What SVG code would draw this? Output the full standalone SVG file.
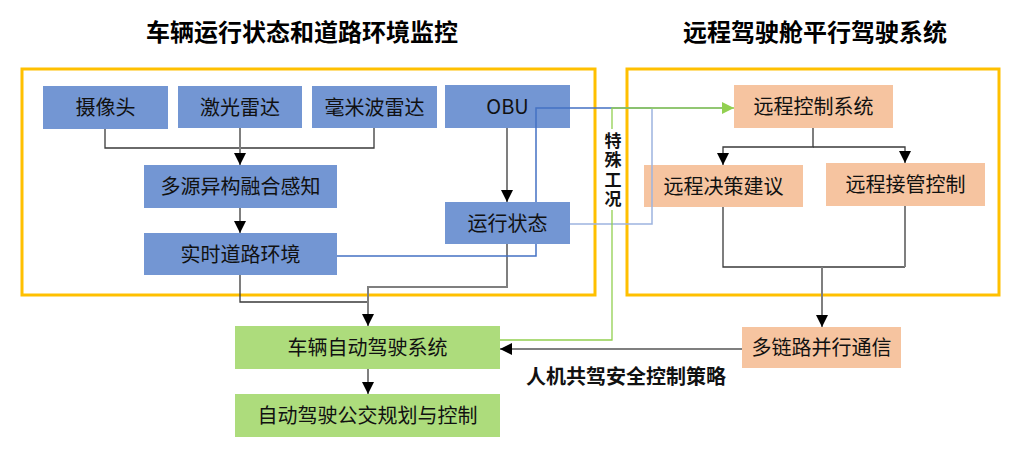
<svg xmlns="http://www.w3.org/2000/svg" width="1025" height="451" viewBox="0 0 1025 451">
<style>
.t{font-family:"Noto Sans CJK SC","Microsoft YaHei",sans-serif;font-size:20px;fill:#111;text-anchor:middle}
.b{font-weight:bold}
.title{font-size:24px;font-weight:bold;fill:#000}
.blue{fill:#7396D3}
.org{fill:#F6C4A0}
.grn{fill:#ADDC7C}
.frame{fill:none;stroke:#FFC000;stroke-width:3}
.dk{fill:none;stroke:#3a3a3a;stroke-width:1.3}
.gr{fill:none;stroke:#7f7f7f;stroke-width:2}
</style>
<defs>
<marker id="ah" markerUnits="userSpaceOnUse" markerWidth="12" markerHeight="12" refX="12" refY="6" orient="auto">
<path d="M0,0 L12,6 L0,12 z" fill="#000"/>
</marker>
<marker id="ahg" markerUnits="userSpaceOnUse" markerWidth="12" markerHeight="12" refX="12" refY="6" orient="auto">
<path d="M0,0 L12,6 L0,12 z" fill="#92D050"/>
</marker>
</defs>
<rect width="1025" height="451" fill="#fff"/>
<text class="t title" x="302" y="41">车辆运行状态和道路环境监控</text>
<text class="t title" x="815" y="41">远程驾驶舱平行驾驶系统</text>
<rect class="frame" x="22" y="69" width="573" height="226"/>
<rect class="frame" x="627" y="69" width="372" height="226"/>

<g id="n-camera"><rect class="blue" x="43" y="86" width="125" height="43"/><text class="t" x="105.5" y="115">摄像头</text></g>
<g id="n-lidar"><rect class="blue" x="178" y="86" width="124" height="42"/><text class="t" x="240" y="114.5">激光雷达</text></g>
<g id="n-radar"><rect class="blue" x="312" y="86" width="125" height="42"/><text class="t" x="374.5" y="114.5">毫米波雷达</text></g>
<g id="n-obu"><rect class="blue" x="445" y="85" width="125" height="43"/><text class="t" x="507.5" y="114">OBU</text></g>
<g id="n-fusion"><rect class="blue" x="144" y="165" width="193" height="43"/><text class="t" x="240.5" y="194">多源异构融合感知</text></g>
<g id="n-road"><rect class="blue" x="144" y="233" width="193" height="42"/><text class="t" x="240.5" y="261.5">实时道路环境</text></g>
<g id="n-rcs"><rect class="org" x="734" y="85" width="159" height="43"/><text class="t" x="813.5" y="114">远程控制系统</text></g>
<g id="n-advice"><rect class="org" x="644" y="165" width="159" height="42"/><text class="t" x="723.5" y="193.5">远程决策建议</text></g>
<g id="n-takeover"><rect class="org" x="826" y="163" width="159" height="43"/><text class="t" x="905.5" y="192">远程接管控制</text></g>
<g id="n-comm"><rect class="org" x="742" y="327" width="159" height="41"/><text class="t" x="821.5" y="355">多链路并行通信</text></g>
<g id="n-ads"><rect class="grn" x="235" y="326" width="265" height="43"/><text class="t" x="367.5" y="355">车辆自动驾驶系统</text></g>
<g id="n-plan"><rect class="grn" x="235" y="394" width="265" height="43"/><text class="t" x="367.5" y="423">自动驾驶公交规划与控制</text></g>

<g id="connectors">
<path class="dk" d="M105,129 V148 H374 V128"/>
<path class="gr" d="M240,128 V165" marker-end="url(#ah)"/>
<path class="gr" d="M240,208 V233" marker-end="url(#ah)"/>
<path class="dk" d="M507,128 V202" marker-end="url(#ah)"/>
<path class="dk" d="M240,275 V302 H368"/>
<path class="gr" d="M507,244 V287 H368 V326" marker-end="url(#ah)"/>
<path class="gr" d="M368,369 V394" marker-end="url(#ah)"/>
<path class="dk" d="M813,128 V147 H723 V165" marker-end="url(#ah)"/>
<path class="dk" d="M813,147 H905 V163" marker-end="url(#ah)"/>
<path class="dk" d="M723,207 V267 H905"/>
<path class="gr" d="M905,206 V267"/>
<path class="gr" d="M822,267 V327" marker-end="url(#ah)"/>
<path class="gr" d="M742,349 H500" marker-end="url(#ah)"/>
<path d="M337,256 H536 V108 H723" fill="none" stroke="#4472C4" stroke-width="1.5"/>
<path d="M570,224 H652 V108 H723" fill="none" stroke="#9DB4DF" stroke-width="1.5"/>
<path d="M500,340 H612 V108 H734" fill="none" stroke="#92D050" stroke-width="1.3" marker-end="url(#ahg)"/>
</g>

<g id="n-state"><rect class="blue" x="445" y="202" width="125" height="42"/><text class="t" x="507.5" y="230.5">运行状态</text></g>

<g id="label-special">
<rect x="603" y="129" width="20" height="81" fill="#fff"/>
<text class="b" x="613" y="132" writing-mode="vertical-rl" style="font-family:'Noto Sans CJK SC',sans-serif;font-size:17px;letter-spacing:2.5px;fill:#111">特殊工况</text>
</g>
<text class="t b" x="626" y="384">人机共驾安全控制策略</text>
</svg>
